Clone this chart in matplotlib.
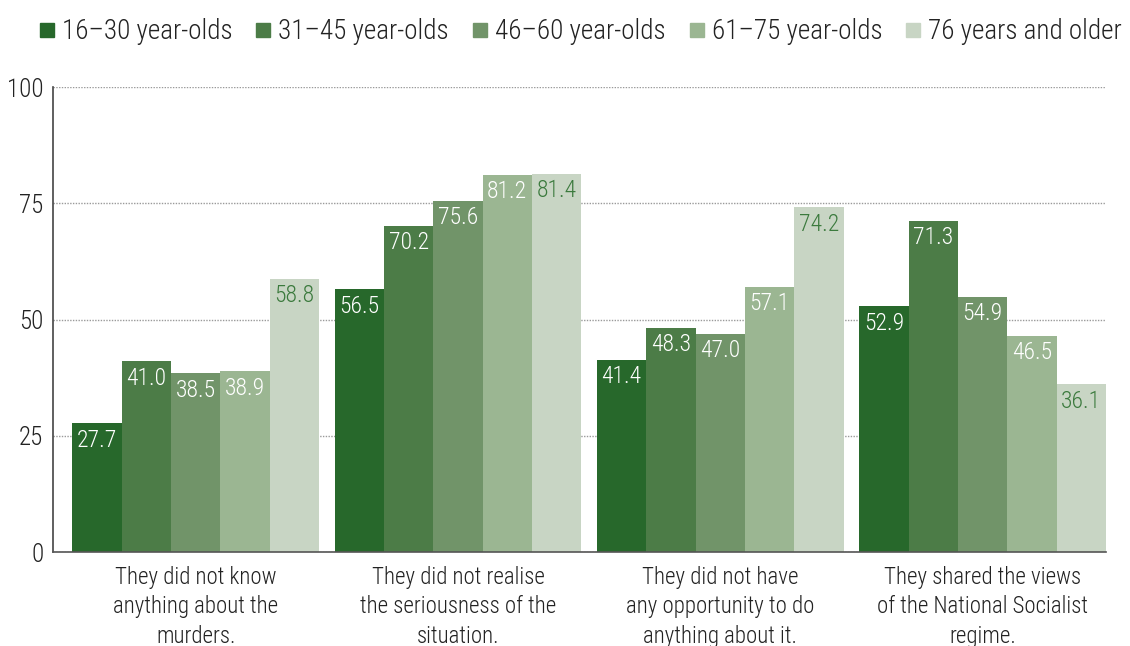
import numpy as np
import matplotlib
matplotlib.use("Agg")
import matplotlib.pyplot as plt
from matplotlib.lines import Line2D

plt.rcParams['font.family'] = ['Roboto Condensed', 'DejaVu Sans']
plt.rcParams['font.weight'] = 300

# data
categories = [
    "They did not know\nanything about the\nmurders.",
    "They did not realise\nthe seriousness of the\nsituation.",
    "They did not have\nany opportunity to do\nanything about it.",
    "They shared the views\nof the National Socialist\nregime.",
]
series_names = ["16\u201330 year-olds", "31\u201345 year-olds", "46\u201360 year-olds",
                "61\u201375 year-olds", "76 years and older"]
age_16_30 = [27.7, 56.5, 41.4, 52.9]
age_31_45 = [41.0, 70.2, 48.3, 71.3]
age_46_60 = [38.5, 75.6, 47.0, 54.9]
age_61_75 = [38.9, 81.2, 57.1, 46.5]
age_76_up = [58.8, 81.4, 74.2, 36.1]
yticks = [0, 25, 50, 75, 100]

colors = ['#27682b', '#4c7c47', '#719469', '#9bb692', '#c8d5c4']
label_colors = ['white', 'white', 'white', 'white', '#3b7a3d']

fig = plt.figure(figsize=(11.3, 6.46), dpi=100)
ax = fig.add_axes([0.047, 0.1455, 0.932, 0.7195])

x = np.arange(len(categories))
w = 0.188
all_series = [age_16_30, age_31_45, age_46_60, age_61_75, age_76_up]
for j, vals in enumerate(all_series):
    xs = x + (j - 2) * w
    ax.bar(xs, vals, width=w, color=colors[j], zorder=2)
    for xi, v in zip(xs, vals):
        ax.annotate(f"{v:.1f}", (xi, v), xytext=(0, -4), textcoords='offset points',
                    ha='center', va='top', fontsize=17, color=label_colors[j], zorder=3)

ax.set_xlim(-0.543, 3.471)
ax.set_ylim(0, 100)
ax.set_yticks(yticks)
ax.set_xticks(x)
ax.set_xticklabels(categories, fontsize=16.5, color='#222222', linespacing=1.36)
ax.tick_params(axis='y', length=0, pad=7, labelsize=18, labelcolor='#222222')
ax.tick_params(axis='x', length=0, pad=10)

ax.yaxis.grid(True, linestyle=(0, (1, 1)), color='#9a9a9a', lw=1)
ax.set_axisbelow(True)
for s in ['top', 'right']:
    ax.spines[s].set_visible(False)
ax.spines['left'].set_color('#444444')
ax.spines['left'].set_linewidth(1.2)
ax.spines['bottom'].set_color('#555555')
ax.spines['bottom'].set_linewidth(1.2)

handles = [Line2D([], [], marker='s', linestyle='none', markersize=9.4,
                  markerfacecolor=c, markeredgecolor=c) for c in colors]
fig.legend(handles, series_names, loc='center right', bbox_to_anchor=(1122 / 1130, 0.951),
           ncol=5, frameon=False, fontsize=19.5, handlelength=0.5, handletextpad=0.3,
           columnspacing=0.9, borderaxespad=0, borderpad=0, labelcolor='#222222')

fig.savefig("out.png", dpi=100)
